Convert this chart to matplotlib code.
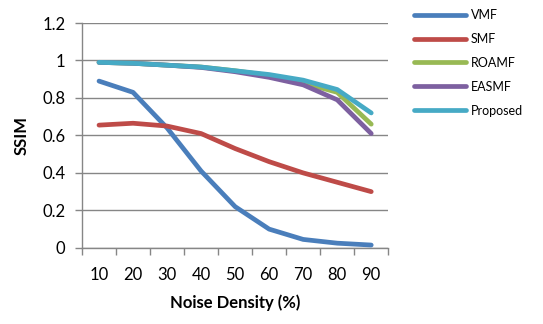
import matplotlib
matplotlib.use('Agg')
import matplotlib.pyplot as plt
from matplotlib.lines import Line2D

plt.rcParams['font.family'] = ['Lato', 'DejaVu Sans']

noise = ['10', '20', '30', '40', '50', '60', '70', '80', '90']
vmf = [0.89, 0.83, 0.64, 0.41, 0.22, 0.10, 0.045, 0.025, 0.015]
smf = [0.655, 0.665, 0.65, 0.61, 0.53, 0.46, 0.40, 0.35, 0.30]
roamf = [0.99, 0.985, 0.975, 0.965, 0.945, 0.92, 0.88, 0.83, 0.66]
easmf = [0.99, 0.985, 0.975, 0.963, 0.94, 0.91, 0.87, 0.79, 0.61]
proposed = [0.99, 0.985, 0.975, 0.965, 0.945, 0.925, 0.895, 0.845, 0.72]

names = ['VMF', 'SMF', 'ROAMF', 'EASMF', 'Proposed']
series = [vmf, smf, roamf, easmf, proposed]
colours = ['#4A7EBB', '#BE4B48', '#98B954', '#7D60A0', '#46AAC5']

fig = plt.figure(figsize=(5.43, 3.24), dpi=100)
ax = fig.add_axes([0.151, 0.235, 0.564, 0.694])

x = list(range(len(noise)))
for ys, c, n in zip(series, colours, names):
    ax.plot(x, ys, color=c, lw=3.4, label=n, solid_capstyle='round', zorder=3)

ax.set_xlim(-0.5, len(noise) - 0.5)
ax.set_ylim(0, 1.2)
ax.set_yticks([0, 0.2, 0.4, 0.6, 0.8, 1.0, 1.2])
ax.set_yticklabels(['0', '0.2', '0.4', '0.6', '0.8', '1', '1.2'])
ax.set_xticks(x)
ax.set_xticklabels(noise)
ax.set_xticks([i - 0.5 for i in range(len(noise) + 1)], minor=True)
ax.tick_params(axis='x', which='major', length=0, pad=14, labelsize=12)
ax.tick_params(axis='x', which='minor', length=5, color='#868686', width=1)
ax.tick_params(axis='y', length=5, color='#868686', width=1, labelsize=12, pad=7)
ax.grid(axis='y', color='#868686', lw=1, zorder=0)
for s in ['top', 'right']:
    ax.spines[s].set_visible(False)
for s in ['left', 'bottom']:
    ax.spines[s].set_color('#868686')
    ax.spines[s].set_linewidth(1)

ax.set_xlabel('Noise Density (%)', fontsize=12, fontweight='bold', labelpad=8)
ax.set_ylabel('SSIM', fontsize=12, fontweight='bold', labelpad=9)

handles = [Line2D([0], [0], color=c, lw=3.4, solid_capstyle='round') for c in colours]
fig.legend(handles, names, loc='upper left', bbox_to_anchor=(0.748, 0.995),
           frameon=False, fontsize=9, handlelength=4.2, handletextpad=0.35,
           labelspacing=0.95, borderaxespad=0.2)

plt.savefig('out.png', dpi=100)
